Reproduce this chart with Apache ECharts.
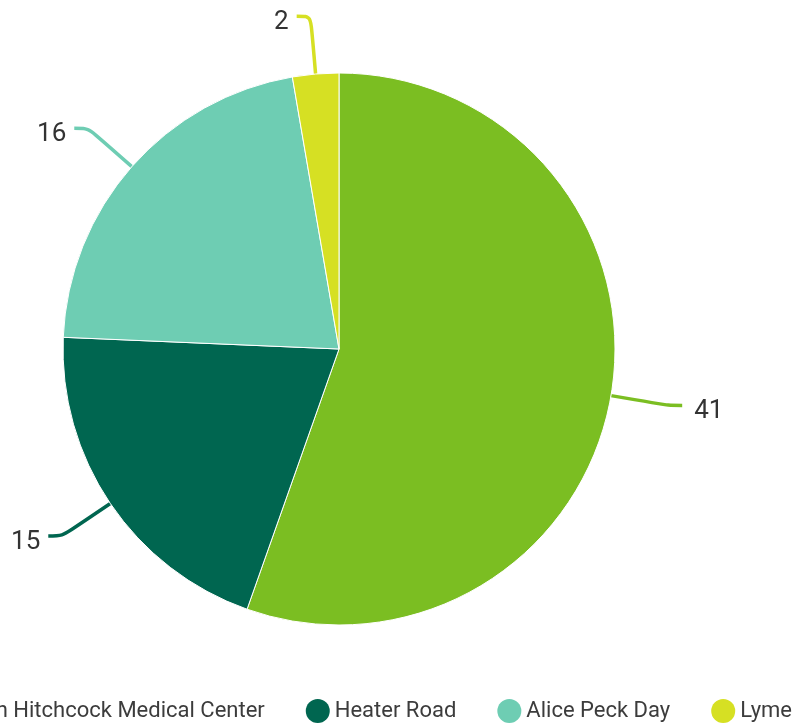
<!DOCTYPE html>
<html>
<head>
<meta charset="utf-8">
<style>
  html, body { margin: 0; padding: 0; background: #ffffff; }
  #chart { width: 794px; height: 727px; }
</style>
<script src="https://cdn.jsdelivr.net/npm/echarts@6/dist/echarts.min.js"></script>
</head>
<body>
<div id="chart"></div>
<script>
// Sites and their counts
const sites = ['Dartmouth Hitchcock Medical Center', 'Heater Road', 'Alice Peck Day', 'Lyme'];
const counts = [41, 15, 16, 2];
const colors = ['#7bbe22', '#006650', '#6ecdb3', '#d6e023'];

const chart = echarts.init(document.getElementById('chart'), null, { renderer: 'canvas' });

// Labels on the left half sit a little closer to their leader lines
const data = sites.map((name, i) => ({
  name: name,
  value: counts[i],
  itemStyle: { color: colors[i] },
  label: { distanceToLabelLine: i === 0 ? 12 : 8 }
}));

chart.setOption({
  animation: false,
  textStyle: { fontFamily: 'Roboto' },
  legend: {
    data: sites,
    right: 2,
    top: 699,
    width: 2000,
    padding: 0,
    icon: 'circle',
    itemWidth: 24,
    itemHeight: 24,
    itemGap: 41,
    itemStyle: { borderWidth: 0 },
    textStyle: { fontSize: 22, color: '#3c3c3c', fontFamily: 'Roboto' }
  },
  series: [{
    type: 'pie',
    center: [339, 349],
    radius: [0, 276],
    startAngle: 90,
    clockwise: true,
    data: data,
    itemStyle: { borderColor: '#ffffff', borderWidth: 1 },
    label: {
      show: true,
      formatter: '{v|{c}}',
      overflow: 'none',
      rich: {
        v: {
          fontSize: 26,
          color: '#333333',
          fontFamily: 'Roboto',
          padding: [12, 0, 0, 0]
        }
      }
    },
    labelLine: {
      show: true,
      length: 58,
      length2: 14,
      smooth: 0.3,
      lineStyle: { width: 3.5 }
    },
    emphasis: { disabled: true }
  }]
});
</script>
</body>
</html>
